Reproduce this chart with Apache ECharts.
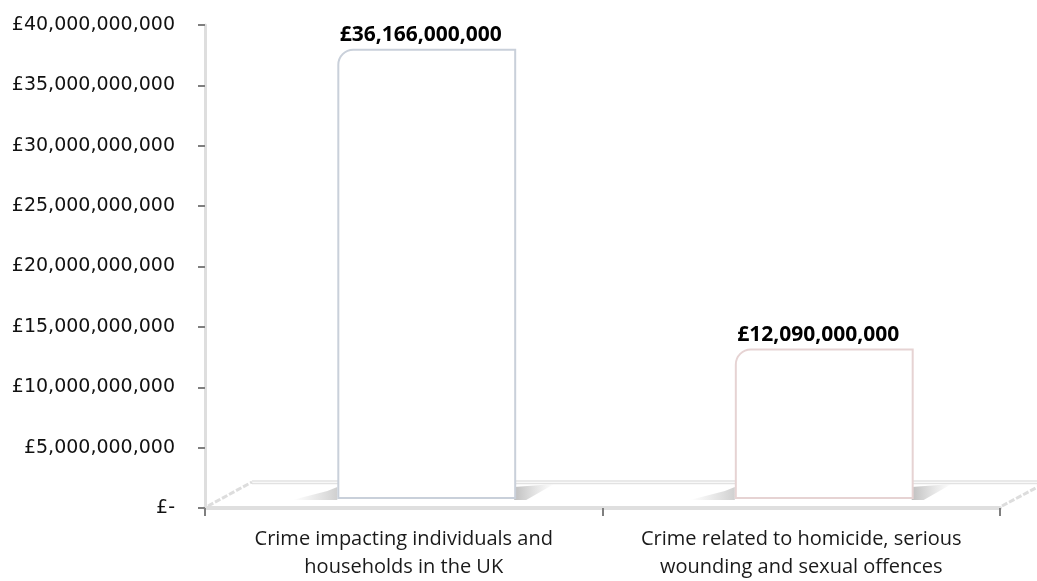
<!DOCTYPE html>
<html>
<head>
<meta charset="utf-8">
<script src="https://cdn.jsdelivr.net/npm/echarts@6/dist/echarts.min.js"></script>
<style>
  html, body { margin: 0; padding: 0; background: #ffffff; }
  #chart { width: 1037px; height: 581px; }
</style>
</head>
<body>
<div id="chart"></div>
<script>
// Annual cost of crime by category (GBP)
const categories = [
  'Crime impacting individuals and\nhouseholds in the UK',
  'Crime related to homicide, serious\nwounding and sexual offences'
];
const costValues = [36166000000, 12090000000];
const barEdgeColors = ['#c9d0da', '#e6d3d3'];
const axisMax = 40000000000;
const axisStep = 5000000000;

// Plot area of the visible axes
const W = 1037, H = 581;
const plotLeft = 205, plotRight = 1000, plotTop = 25, plotBottom = 509;
// Depth offset of the floor plate and bars (pseudo 3D)
const depthX = 47, depthY = 27;
const barShiftX = 23;

function money(v) {
  if (v === 0) return '£-';
  return '£' + Math.round(v).toLocaleString('en-GB');
}

const chart = echarts.init(document.getElementById('chart'), null, { renderer: 'canvas' });

const option = {
  backgroundColor: '#ffffff',
  animation: false,
  grid: [
    { left: plotLeft, right: W - plotRight, top: plotTop, bottom: H - plotBottom },
    { left: plotLeft + barShiftX, right: W - plotRight - barShiftX, top: 1, bottom: H - 499 }
  ],
  xAxis: [
    {
      type: 'category', gridIndex: 0, data: categories,
      axisLine: { lineStyle: { color: '#dfdfdf', width: 4 } },
      axisTick: { show: true, interval: 0, alignWithLabel: false, length: 8, lineStyle: { color: '#7f7f7f', width: 2 } },
      axisLabel: {
        interval: 0, margin: 17, color: '#1a1a1a', fontFamily: 'Open Sans', fontSize: 20, lineHeight: 28
      },
      splitLine: { show: false }
    },
    {
      type: 'category', gridIndex: 1, data: categories, show: false
    }
  ],
  yAxis: [
    {
      type: 'value', gridIndex: 0, min: 0, max: axisMax, interval: axisStep,
      axisLine: { show: true, lineStyle: { color: '#dedede', width: 3 } },
      axisTick: { show: true, length: 7, lineStyle: { color: '#7f7f7f', width: 2 } },
      axisLabel: {
        margin: 30, color: '#111111', fontFamily: 'DejaVu Sans', fontSize: 19,
        formatter: money
      },
      splitLine: { show: false }
    },
    {
      type: 'value', gridIndex: 1, min: 0, max: axisMax, show: false
    }
  ],
  series: [
    {
      type: 'bar', xAxisIndex: 1, yAxisIndex: 1,
      barWidth: '45%', z: 5,
      data: costValues.map((v, i) => ({
        value: v,
        itemStyle: { color: '#ffffff', borderColor: barEdgeColors[i], borderWidth: 2, borderRadius: [15, 0, 0, 0] }
      })),
      label: {
        show: true, position: 'top', distance: 3, offset: [-6, 0],
        color: '#000000', fontFamily: 'Open Sans', fontWeight: 'bold', fontSize: 21,
        formatter: p => money(p.value)
      }
    }
  ]
};
chart.setOption(option);

// Floor plate and bar foot shadows, positioned from the axes
function drawFloor() {
  const elems = [];
  const y0 = plotBottom;
  const grey = '#e2e2e2';
  elems.push({
    type: 'line', z: 1, silent: true,
    shape: { x1: plotLeft + depthX, y1: y0 - depthY - 1, x2: plotRight + depthX + 10, y2: y0 - depthY - 1 },
    style: { stroke: grey, lineWidth: 1.5 }
  });
  elems.push({
    type: 'line', z: 1, silent: true,
    shape: { x1: plotLeft + depthX, y1: y0 - depthY + 1.5, x2: plotRight + depthX + 10, y2: y0 - depthY + 1.5 },
    style: { stroke: grey, lineWidth: 1.5 }
  });
  elems.push({
    type: 'line', z: 1, silent: true,
    shape: { x1: plotLeft + 3, y1: y0 - 3, x2: plotLeft + depthX, y2: y0 - depthY },
    style: { stroke: '#dddddd', lineWidth: 3, lineDash: [6, 2] }
  });
  elems.push({
    type: 'line', z: 1, silent: true,
    shape: { x1: plotRight + 2, y1: y0 - 3, x2: plotRight + depthX, y2: y0 - depthY },
    style: { stroke: '#dddddd', lineWidth: 3, lineDash: [6, 2] }
  });

  costValues.forEach((v, i) => {
    const c = chart.convertToPixel({ xAxisIndex: 1, yAxisIndex: 1 }, [i, 0]);
    const bw = 0.45 * (plotRight - plotLeft) / categories.length;
    const xl = c[0] - bw / 2, xr = c[0] + bw / 2, yb = c[1];
    elems.push({
      type: 'polygon', z: 3, silent: true,
      shape: { points: [[xl - 45, yb + 1], [xl - 10, yb - 8], [xl, yb - 12], [xl, yb + 1]] },
      style: {
        fill: new echarts.graphic.LinearGradient(0, 0, 1, 0, [
          { offset: 0, color: 'rgba(170,170,170,0)' },
          { offset: 1, color: 'rgba(150,150,150,0.45)' }
        ])
      }
    });
    elems.push({
      type: 'polygon', z: 3, silent: true,
      shape: { points: [[xr - 2, yb + 1], [xr - 2, yb - 12], [xr + 38, yb - 15], [xr + 10, yb + 1]] },
      style: {
        fill: new echarts.graphic.LinearGradient(0, 0, 1, 0, [
          { offset: 0, color: 'rgba(140,140,140,0.55)' },
          { offset: 1, color: 'rgba(160,160,160,0)' }
        ])
      }
    });
  });
  chart.setOption({ graphic: { elements: elems } });
}
drawFloor();
</script>
</body>
</html>
